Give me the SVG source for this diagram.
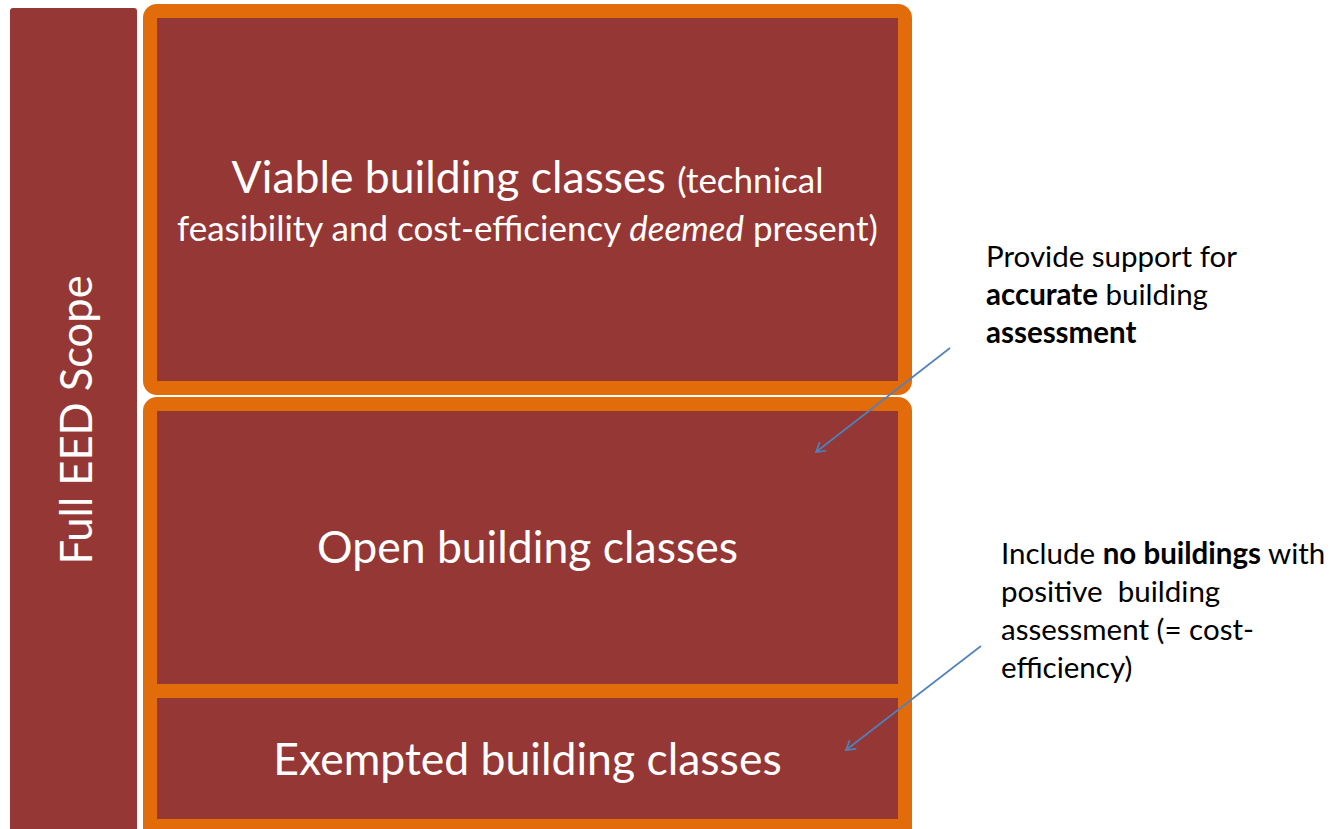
<svg xmlns="http://www.w3.org/2000/svg" width="1340" height="829" viewBox="0 0 1340 829">
  <style>
    .band { fill: #953735; }
    .box { fill: #953735; stroke: #E36C0A; stroke-width: 14; }
    .lbl { fill: #FFFFFF; font-family: Lato, "Open Sans", "Liberation Sans", sans-serif; text-anchor: middle; }
    .note { fill: #000000; font-family: Lato, "Open Sans", "Liberation Sans", sans-serif; font-size: 29.5px; }
    .conn { stroke: #4F81BD; stroke-width: 1.6; fill: none; }
  </style>
  <defs>
    <marker id="open-arrow" markerWidth="12" markerHeight="12" refX="10" refY="6" orient="auto" markerUnits="userSpaceOnUse">
      <path d="M1,0.5 L10,6 L1,11.5" fill="none" stroke="#4F81BD" stroke-width="1.6"/>
    </marker>
  </defs>

  <!-- scope band on the left -->
  <g id="scope">
    <rect class="band" x="10" y="8" width="127" height="830" rx="3"/>
    <text class="lbl" transform="translate(92,420) rotate(-90)" font-size="43.5">Full EED Scope</text>
  </g>

  <!-- exempted classes (drawn first so its square top edge fills the joint) -->
  <g id="exempted">
    <rect class="box" x="150" y="691" width="755" height="135" rx="0"/>
    <text class="lbl" x="527.5" y="775" font-size="44.5">Exempted building classes</text>
  </g>

  <!-- open classes -->
  <g id="open">
    <rect class="box" x="150" y="404" width="755" height="287" rx="7"/>
    <text class="lbl" x="527.5" y="563" font-size="44.5">Open building classes</text>
  </g>

  <!-- viable classes -->
  <g id="viable">
    <rect class="box" x="150" y="11" width="755" height="377" rx="7"/>
    <text class="lbl" x="527.5" y="193"><tspan font-size="44.5">Viable building classes </tspan><tspan font-size="35">(technical</tspan></text>
    <text class="lbl" x="527.5" y="241" font-size="35">feasibility and cost-efficiency <tspan font-style="italic">deemed</tspan> present)</text>
  </g>

  <!-- annotation notes -->
  <g id="note-accurate">
    <text class="note" x="986" y="267">Provide support for</text>
    <text class="note" x="986" y="305"><tspan font-weight="bold">accurate</tspan> building</text>
    <text class="note" x="986" y="343" font-weight="bold">assessment</text>
  </g>
  <g id="note-none">
    <text class="note" x="1001" y="564">Include <tspan font-weight="bold">no buildings</tspan> with</text>
    <text class="note" x="1001" y="602" xml:space="preserve">positive  building</text>
    <text class="note" x="1001" y="640">assessment (= cost-</text>
    <text class="note" x="1001" y="678">efficiency)</text>
  </g>

  <!-- connectors -->
  <g id="connectors">
    <line class="conn" x1="950" y1="348" x2="816" y2="452" marker-end="url(#open-arrow)"/>
    <line class="conn" x1="981" y1="646" x2="846" y2="750" marker-end="url(#open-arrow)"/>
  </g>
</svg>
